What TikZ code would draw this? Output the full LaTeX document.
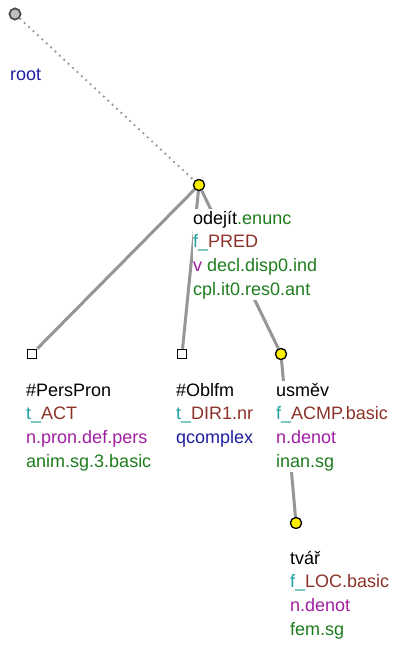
\documentclass[tikz,border=0pt]{standalone}
\usepackage{fontspec}
\setmainfont{Liberation Sans}
\definecolor{cblue}{RGB}{30,30,160}
\definecolor{cteal}{RGB}{30,160,160}
\definecolor{cbrown}{RGB}{140,50,40}
\definecolor{cpurple}{RGB}{160,30,160}
\definecolor{cgreen}{RGB}{30,125,30}
\definecolor{cedge}{RGB}{150,150,150}
\tikzset{
  edge/.style={draw=cedge, line width=3pt},
  rootedge/.style={draw=cedge, line width=1.8pt, dash pattern=on 1.8pt off 4.2pt},
  ynode/.style={circle, draw=black, line width=1.2pt, fill=yellow, minimum size=11pt, inner sep=0pt},
  rnode/.style={circle, draw=black!70, line width=1.6pt, fill=black!25, minimum size=11pt, inner sep=0pt},
  snode/.style={rectangle, draw=black, line width=1.1pt, fill=white, minimum size=9.5pt, inner sep=0pt},
  lbl/.style={anchor=north west, align=left, fill=white, inner xsep=0.5pt, inner ysep=1pt,
    font=\fontsize{18}{23.7}\selectfont},
}
\newcommand{\topstrut}{\rule{0pt}{14pt}}
\begin{document}
\begin{tikzpicture}[x=1pt,y=-1pt]
\useasboundingbox (0,0) rectangle (403,645);
% nodes
\node[rnode] (root) at (15,14) {};
\node[ynode] (odejit) at (199,185) {};
\node[snode] (pers) at (32,354) {};
\node[snode] (obl) at (182,354) {};
\node[ynode] (usmev) at (281,354) {};
\node[ynode] (tvar) at (296,523) {};
% edges
\draw[rootedge] (root) -- (odejit);
\draw[edge] (odejit) -- (pers);
\draw[edge] (odejit) -- (obl);
\draw[edge] (odejit) -- (usmev);
\draw[edge] (usmev) -- (tvar);
% redraw node symbols on top
\node[rnode] at (root) {};
\node[ynode] at (odejit) {};
\node[snode] at (pers) {};
\node[snode] at (obl) {};
\node[ynode] at (usmev) {};
\node[ynode] at (tvar) {};
% labels
\node[lbl] (rootT) at (9.5,65) {\topstrut\textcolor{cblue}{root}};
\node[lbl] (odejitT) at (192.5,209) {\topstrut odejít\textcolor{cgreen}{.enunc}\\
  \textcolor{cteal}{f\_}\textcolor{cbrown}{PRED}\\
  \textcolor{cpurple}{v} \textcolor{cgreen}{decl.disp0.ind}\\
  \textcolor{cgreen}{cpl.it0.res0.ant}};
\node[lbl] (persT) at (25.5,381) {\topstrut\#PersPron\\
  \textcolor{cteal}{t\_}\textcolor{cbrown}{ACT}\\
  \textcolor{cpurple}{n.pron.def.pers}\\
  \textcolor{cgreen}{anim.sg.3.basic}};
\node[lbl] (oblT) at (175.5,381) {\topstrut\#Oblfm\\
  \textcolor{cteal}{t\_}\textcolor{cbrown}{DIR1.nr}\\
  \textcolor{cblue}{qcomplex}};
\node[lbl] (usmevT) at (275.5,381) {\topstrut usměv\\
  \textcolor{cteal}{f\_}\textcolor{cbrown}{ACMP.basic}\\
  \textcolor{cpurple}{n.denot}\\
  \textcolor{cgreen}{inan.sg}};
\node[lbl] (tvarT) at (289.5,549) {\topstrut tvář\\
  \textcolor{cteal}{f\_}\textcolor{cbrown}{LOC.basic}\\
  \textcolor{cpurple}{n.denot}\\
  \textcolor{cgreen}{fem.sg}};
\end{tikzpicture}
\end{document}
